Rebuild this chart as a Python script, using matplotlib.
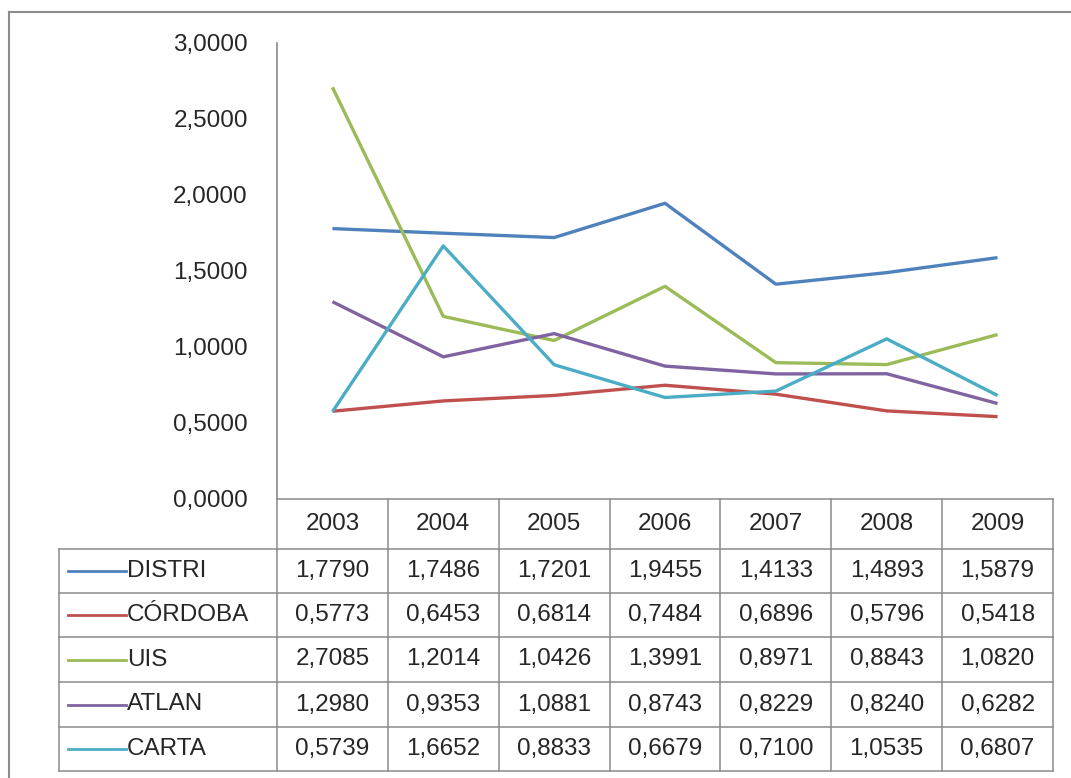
import matplotlib
matplotlib.use("Agg")
import matplotlib.pyplot as plt
from matplotlib.lines import Line2D

years = ["2003", "2004", "2005", "2006", "2007", "2008", "2009"]
series_names = ["DISTRI", "CÓRDOBA", "UIS", "ATLAN", "CARTA"]
distri = [1.7790, 1.7486, 1.7201, 1.9455, 1.4133, 1.4893, 1.5879]
cordoba = [0.5773, 0.6453, 0.6814, 0.7484, 0.6896, 0.5796, 0.5418]
uis = [2.7085, 1.2014, 1.0426, 1.3991, 0.8971, 0.8843, 1.0820]
atlan = [1.2980, 0.9353, 1.0881, 0.8743, 0.8229, 0.8240, 0.6282]
carta = [0.5739, 1.6652, 0.8833, 0.6679, 0.7100, 1.0535, 0.6807]
y_ticks = [0.0, 0.5, 1.0, 1.5, 2.0, 2.5, 3.0]

colors = ["#4F81BD", "#C0504D", "#9BBB59", "#8064A2", "#4BACC6"]
all_series = [distri, cordoba, uis, atlan, carta]

W, H = 1071, 778
fig = plt.figure(figsize=(W / 100, H / 100), dpi=100)
plt.rcParams["font.family"] = ["Liberation Sans", "DejaVu Sans"]

text_color = "#262626"
grid_color = "#8a8a8a"
fs = 17.5

def fx(px):
    return px / W

def fy(py):
    return 1 - py / H

# plot area geometry (pixels)
x_left, x_right = 277, 1053
y_top, y_bot = 43, 499
tbl_left = 59
row_edges = [499, 549, 593, 637, 682, 727, 771]

ax = fig.add_axes([fx(x_left), fy(y_bot), fx(x_right) - fx(x_left), fy(y_top) - fy(y_bot)])
ax.set_xlim(-0.5, len(years) - 0.5)
ax.set_ylim(0, 3)
xs = list(range(len(years)))
for vals, c in zip(all_series, colors):
    ax.plot(xs, vals, color=c, lw=2.4, solid_joinstyle="round", solid_capstyle="butt")

for s in ["top", "right", "bottom"]:
    ax.spines[s].set_visible(False)
ax.spines["left"].set_color(grid_color)
ax.spines["left"].set_linewidth(1.2)
ax.set_xticks([])
ax.set_yticks(y_ticks)
ax.set_yticklabels([f"{v:.4f}".replace(".", ",") for v in y_ticks], fontsize=fs, color=text_color)
ax.tick_params(axis="y", length=0, pad=21)
ax.patch.set_alpha(0)

# data table below the plot
col_w = (x_right - x_left) / len(years)

def hline(x0, x1, y):
    fig.add_artist(Line2D([fx(x0), fx(x1)], [fy(y), fy(y)], color=grid_color, lw=1.1))

def vline(x, y0, y1):
    fig.add_artist(Line2D([fx(x), fx(x)], [fy(y0), fy(y1)], color=grid_color, lw=1.1))

hline(x_left, x_right, row_edges[0])
for y in row_edges[1:]:
    hline(tbl_left, x_right, y)
for j in range(len(years) + 1):
    vline(x_left + j * col_w, row_edges[0], row_edges[-1])
vline(tbl_left, row_edges[1], row_edges[-1])

for j, yr in enumerate(years):
    cx = x_left + (j + 0.5) * col_w
    fig.text(fx(cx), fy((row_edges[0] + row_edges[1]) / 2), yr, ha="center", va="center",
             fontsize=fs, color=text_color)

for i, (name, vals, c) in enumerate(zip(series_names, all_series, colors)):
    cy = (row_edges[i + 1] + row_edges[i + 2]) / 2
    fig.add_artist(Line2D([fx(68), fx(126)], [fy(cy), fy(cy)], color=c, lw=2.0))
    fig.text(fx(127), fy(cy), name, ha="left", va="center", fontsize=fs, color=text_color)
    for j, v in enumerate(vals):
        cx = x_left + (j + 0.5) * col_w
        fig.text(fx(cx), fy(cy), f"{v:.4f}".replace(".", ","), ha="center", va="center",
                 fontsize=fs, color=text_color)

# chart frame
fig.add_artist(Line2D([fx(9), fx(W)], [fy(12), fy(12)], color="#8c8c8c", lw=1.5))
fig.add_artist(Line2D([fx(9), fx(9)], [fy(12), fy(H)], color="#8c8c8c", lw=1.5))

fig.savefig("out.png", dpi=100, facecolor="white")
